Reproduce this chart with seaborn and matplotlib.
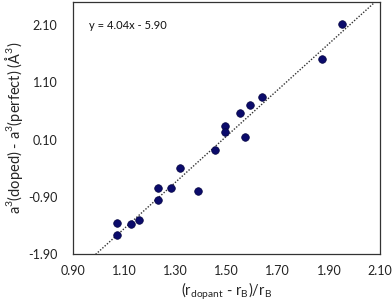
import numpy as np
import matplotlib
matplotlib.use("Agg")
import matplotlib.pyplot as plt
import seaborn as sns

# data
size_mismatch = [1.074, 1.074, 1.125, 1.158, 1.231, 1.231, 1.283, 1.320, 1.388,
                 1.456, 1.493, 1.493, 1.552, 1.570, 1.592, 1.639, 1.871, 1.951]
volume_change = [-1.36, -1.56, -1.37, -1.30, -0.75, -0.96, -0.74, -0.39, -0.79,
                 -0.09, 0.34, 0.23, 0.56, 0.15, 0.70, 0.85, 1.51, 2.11]
slope, intercept = 4.04, -5.90
x_ticks = [0.90, 1.10, 1.30, 1.50, 1.70, 1.90, 2.10]
y_ticks = [-1.90, -0.90, 0.10, 1.10, 2.10]

sns.set_style("white")
plt.rcParams['font.family'] = ['Lato', 'DejaVu Sans']

fig = plt.figure(figsize=(3.92, 3.05), dpi=100)
ax = fig.add_axes([0.186, 0.167, 0.784, 0.826])

# trend line
fit_x = np.array([0.9, 2.1])
ax.plot(fit_x, slope * fit_x + intercept, linestyle=(0, (1, 1.2)), color="#333333", linewidth=1.0, zorder=1)

sns.scatterplot(x=size_mismatch, y=volume_change, ax=ax, color="#0b0b6b",
                edgecolor="#050540", linewidth=0.5, s=30, zorder=3)

ax.set_xlim(0.9, 2.1)
ax.set_ylim(-1.9, 2.5)
ax.set_xticks(x_ticks)
ax.set_yticks(y_ticks)
ax.set_xticklabels([f"{t:.2f}" for t in x_ticks])
ax.set_yticklabels([f"{t:.2f}" for t in y_ticks])
ax.tick_params(direction="in", length=4, width=0.8, color="#444444",
               labelsize=9, labelcolor="#222222")
ax.tick_params(axis="x", pad=8)
ax.tick_params(axis="y", pad=11)
for sp in ax.spines.values():
    sp.set_color("#333333")
    sp.set_linewidth(0.9)

ax.text(0.962, 2.10, "y = 4.04x - 5.90", fontsize=8, va="center", ha="left", color="#111111")

ax.set_xlabel(r"(r$_{\mathregular{dopant}}$ - r$_{\mathregular{B}}$)/r$_{\mathregular{B}}$", fontsize=10.5, labelpad=2)
ax.set_ylabel(r"a$^{\mathregular{3}}$(doped) - a$^{\mathregular{3}}$(perfect) (Å$^{\mathregular{3}}$)", fontsize=10.5, labelpad=2)

fig.savefig("out.png", dpi=100)
